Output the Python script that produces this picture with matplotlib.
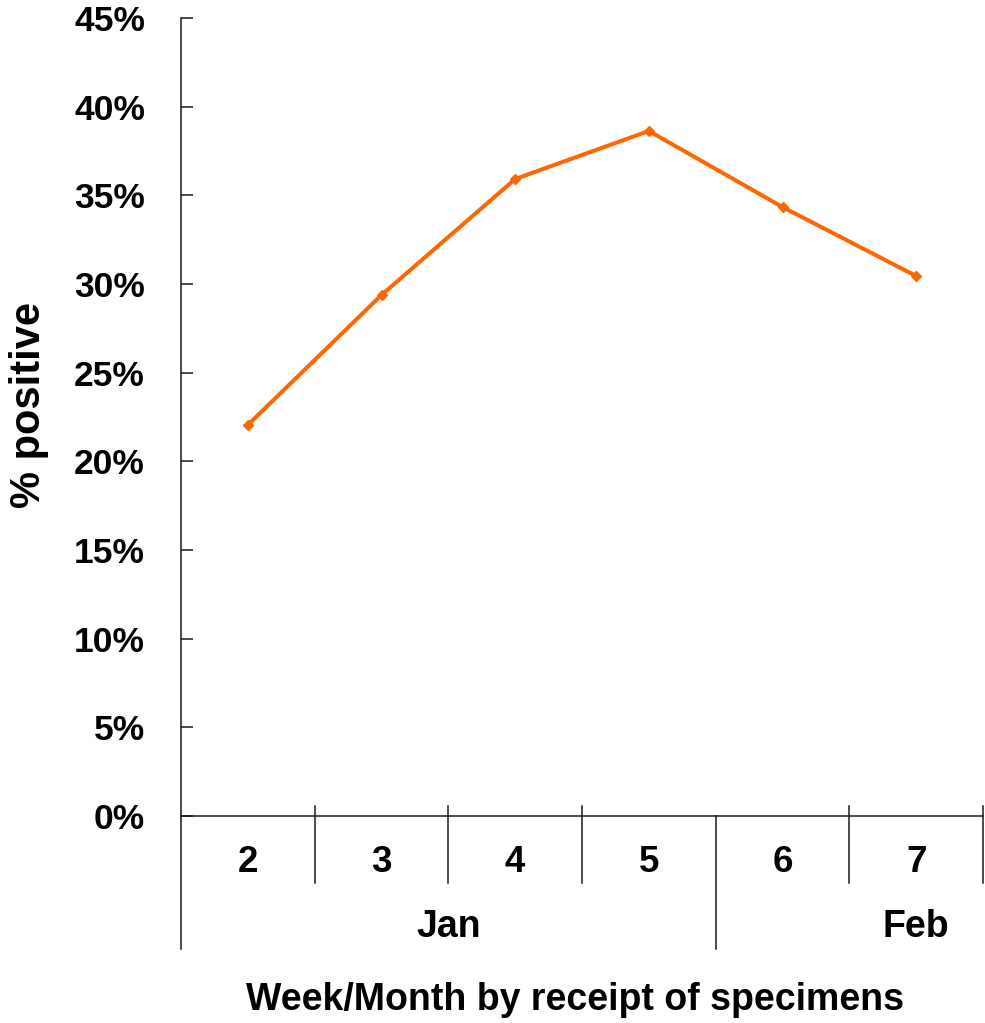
import matplotlib
matplotlib.use("Agg")
import matplotlib.pyplot as plt
import matplotlib.transforms as mtransforms
from matplotlib.ticker import PercentFormatter, MultipleLocator

# ---- data ----
weeks = ["2", "3", "4", "5", "6", "7"]
pct_positive = [0.2205, 0.2938, 0.3592, 0.3863, 0.3434, 0.3045]
months = ["Jan", "Feb"]
month_first_week = [0, 4]          # index of first week of each month
month_label_pos = [1.5, 5.0]       # where the month names sit (week index units)

W, H = 985, 1023
fig = plt.figure(figsize=(W / 100, H / 100), dpi=100)
plt.rcParams['font.family'] = ['Liberation Sans', 'DejaVu Sans']

left, right, top, bottom = 181, 983, 18, 816
ax = fig.add_axes([left / W, 1 - bottom / H, (right - left) / W, (bottom - top) / H])

x = list(range(len(weeks)))
ax.plot(x, pct_positive, color='#FF6600', lw=2.9, marker='D', ms=5,
        solid_joinstyle='miter', zorder=3)

ax.set_xlim(-0.5, len(weeks) - 0.5)
ax.set_ylim(0, 0.45)
ax.yaxis.set_major_locator(MultipleLocator(0.05))
ax.yaxis.set_major_formatter(PercentFormatter(1.0, decimals=0))

axcol = '#1a1a1a'
for s in ['top', 'right']:
    ax.spines[s].set_visible(False)
for s in ['left', 'bottom']:
    ax.spines[s].set_color(axcol)
    ax.spines[s].set_linewidth(1.1)

ax.tick_params(axis='y', direction='in', length=8.6, width=1.1, color=axcol,
               pad=26, labelsize=25.5)
for lab in ax.get_yticklabels():
    lab.set_fontweight('bold')
ax.set_xticks([])

axh = bottom - top
blend = mtransforms.blended_transform_factory(ax.transData, ax.transAxes)

# short separators between weeks
for b in [i + 0.5 for i in range(len(weeks))]:
    if b - 0.5 + 1 in month_first_week:
        continue
    ax.plot([b, b], [10 / axh, -67 / axh], color=axcol, lw=1.1,
            transform=blend, clip_on=False)
# long separators at month boundaries
for m in month_first_week:
    ax.plot([m - 0.5, m - 0.5], [0, -133 / axh], color=axcol, lw=1.1,
            transform=blend, clip_on=False)

for i, w in enumerate(weeks):
    ax.text(i, -46 / axh, w, transform=blend, ha='center', va='center',
            fontsize=26.5, fontweight='bold')
for m, p in zip(months, month_label_pos):
    ax.text(p, -111 / axh, m, transform=blend, ha='center', va='center',
            fontsize=27, fontweight='bold')

fig.text(575 / W, 1 - 1000 / H, "Week/Month by receipt of specimens",
         ha='center', va='center', fontsize=27, fontweight='bold')
fig.text(29 / W, 1 - 405 / H, "% positive", rotation=90,
         ha='center', va='center', fontsize=30, fontweight='bold')

fig.savefig("out.png", dpi=100, facecolor='white')
